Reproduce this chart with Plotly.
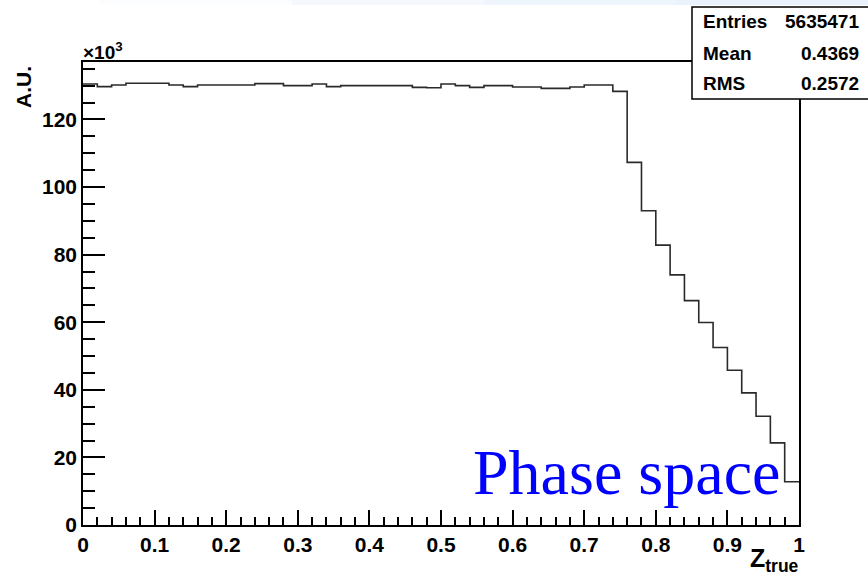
import plotly.graph_objects as go

# ---- data (counts in units of 10^3) ----
bin_edges = [i * 0.02 for i in range(51)]
counts_k = [
    130.5, 129.7, 130.2, 130.7, 130.7, 130.7, 130.2, 129.7, 130.2, 130.2,
    130.2, 130.2, 130.6, 130.6, 130.0, 130.0, 130.5, 129.7, 130.0, 130.0,
    130.0, 130.0, 130.0, 129.5, 129.4, 130.5, 130.0, 129.5, 130.0, 130.0,
    129.6, 129.6, 129.2, 129.2, 129.6, 130.2, 130.2, 128.3, 107.3, 93.0,
    82.8, 74.0, 66.4, 59.9, 52.5, 45.8, 39.1, 32.2, 24.3, 12.8,
]
x_ticks = [0, 0.1, 0.2, 0.3, 0.4, 0.5, 0.6, 0.7, 0.8, 0.9, 1]
x_tick_labels = ["0", "0.1", "0.2", "0.3", "0.4", "0.5", "0.6", "0.7", "0.8", "0.9", "1"]
y_ticks = [0, 20, 40, 60, 80, 100, 120]
stats_names = ["Entries", "Mean", "RMS"]
stats_values = ["5635471", "0.4369", "0.2572"]

W, H = 868, 579
L, R, T, B = 83, 799, 62, 525


def px_x(px):
    return (px - L) / (R - L)


def px_y(py):
    return (B - py) / (B - T)


step_x = bin_edges
step_y = counts_k + [counts_k[-1]]

fig = go.Figure()
fig.add_trace(go.Scatter(
    x=step_x, y=step_y, mode="lines", line=dict(shape="hv", color="#2a2a2a", width=1.6),
    hoverinfo="skip", showlegend=False,
))

tickfont = dict(family="Liberation Sans, Arial", size=21, color="black", weight="bold")

fig.update_layout(
    width=W, height=H,
    margin=dict(l=L, r=W - R, t=T, b=H - B),
    paper_bgcolor="white", plot_bgcolor="white",
    showlegend=False,
    xaxis=dict(
        range=[0, 1], tickvals=x_ticks, ticktext=x_tick_labels,
        ticks="inside", ticklen=15, tickwidth=1.5, tickcolor="black",
        minor=dict(dtick=0.02, ticks="inside", ticklen=8, tickwidth=1.5, tickcolor="black"),
        showline=True, linecolor="black", linewidth=1.5, mirror=True,
        showgrid=False, zeroline=False, tickfont=tickfont,
    ),
    yaxis=dict(
        range=[0, 137], tickvals=y_ticks,
        ticks="inside", ticklen=22, tickwidth=1.5, tickcolor="black",
        minor=dict(dtick=5, ticks="inside", ticklen=12, tickwidth=1.5, tickcolor="black"),
        showline=True, linecolor="black", linewidth=1.5, mirror=True,
        showgrid=False, zeroline=False, tickfont=tickfont,
    ),
)

# light top band (slide background)
band_cols = ["#fbfdff", "#f5f9fe", "#eff5fc", "#eaf2fb"]
for i, c in enumerate(band_cols):
    fig.add_shape(type="rect", xref="paper", yref="paper",
                  x0=px_x(100 + i * 192), x1=px_x(100 + (i + 1) * 192 + 2),
                  y0=px_y(5), y1=px_y(-2), fillcolor=c, line=dict(width=0), layer="below")

# stats box
fig.add_shape(type="rect", xref="paper", yref="paper",
              x0=px_x(692), x1=px_x(880), y0=px_y(99), y1=px_y(7),
              fillcolor="white", line=dict(color="black", width=1.5), layer="above")
stat_font = dict(family="Liberation Sans, Arial", size=19, color="black", weight="bold")
for i, (n, v) in enumerate(zip(stats_names, stats_values)):
    yc = 22 + i * 31
    fig.add_annotation(xref="paper", yref="paper", x=px_x(701), y=px_y(yc), text=n,
                       showarrow=False, xanchor="left", yanchor="middle", font=stat_font)
    fig.add_annotation(xref="paper", yref="paper", x=px_x(861), y=px_y(yc), text=v,
                       showarrow=False, xanchor="right", yanchor="middle", font=stat_font)

# axis titles
fig.add_annotation(xref="paper", yref="paper", x=px_x(23), y=px_y(64), text="A.U.",
                   textangle=-90, showarrow=False, xanchor="center", yanchor="top",
                   font=dict(family="Liberation Sans, Arial", size=21, color="black", weight="bold"))
fig.add_annotation(xref="paper", yref="paper", x=px_x(81), y=px_y(65),
                   text="×10<sup>3</sup>", showarrow=False, xanchor="left", yanchor="bottom",
                   font=dict(family="Liberation Sans, Arial", size=19, color="black", weight="bold"))
fig.add_annotation(xref="paper", yref="paper", x=px_x(801), y=px_y(578),
                   text="Z<sub>true</sub>", showarrow=False, xanchor="right", yanchor="bottom",
                   font=dict(family="Liberation Sans, Arial", size=25, color="black", weight="bold"))

# label
fig.add_annotation(xref="paper", yref="paper", x=px_x(782), y=px_y(472),
                   text="Phase space", showarrow=False, xanchor="right", yanchor="middle",
                   font=dict(family="Liberation Serif, Times New Roman", size=64, color="#0000ff"))

fig.write_html("out.html",
               config={"displayModeBar": False},
               post_script="document.body.style.margin='0';document.body.style.padding='0';"
                           "document.documentElement.style.overflow='hidden';")
